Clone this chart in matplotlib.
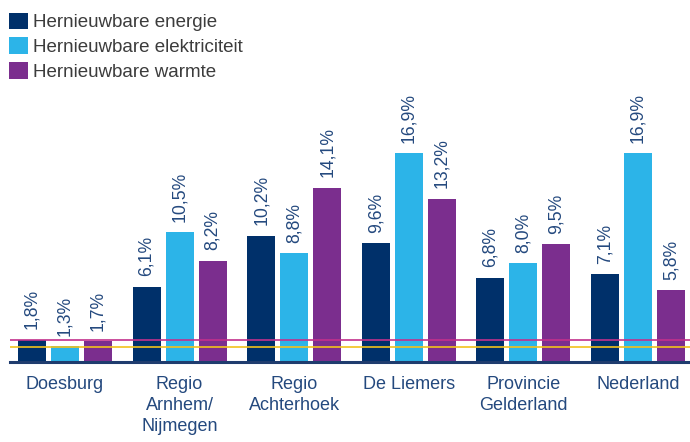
import matplotlib
matplotlib.use("Agg")
import matplotlib.pyplot as plt
from matplotlib.patches import Patch
import numpy as np

plt.rcParams['font.family'] = ['Liberation Sans', 'DejaVu Sans']

categories = ["Doesburg", "Regio\nArnhem/\nNijmegen", "Regio\nAchterhoek", "De Liemers",
              "Provincie\nGelderland", "Nederland"]
series_names = ["Hernieuwbare energie", "Hernieuwbare elektriciteit", "Hernieuwbare warmte"]
energie = [1.8, 6.1, 10.2, 9.6, 6.8, 7.1]
elektriciteit = [1.3, 10.5, 8.8, 16.9, 8.0, 16.9]
warmte = [1.7, 8.2, 14.1, 13.2, 9.5, 5.8]
ref_line_magenta = 1.8
ref_line_yellow = 1.25

colors = ["#00306a", "#2cb4e8", "#7b2e8e"]
text_navy = "#24497e"

fig = plt.figure(figsize=(6.9, 4.42), dpi=100)
ax = fig.add_axes([10/690, 1 - 362/442, 680/690, (362 - 10)/442])

x = np.arange(len(categories))
step = 0.288
width = 0.244
series = [energie, elektriciteit, warmte]
for k, (vals, col) in enumerate(zip(series, colors)):
    xs = x + (k - 1) * step
    ax.bar(xs, vals, width=width, color=col, zorder=2)
    for xi, v in zip(xs, vals):
        ax.annotate(f"{v:.1f}%".replace(".", ","), (xi, v), xytext=(0, 7.5),
                    textcoords="offset points", rotation=90, ha="center", va="bottom",
                    fontsize=12.7, color=text_navy)

ax.axhline(ref_line_magenta, color="#c2308c", lw=1.2, zorder=3)
ax.axhline(ref_line_yellow, color="#f2c21b", lw=1.2, zorder=3)

ax.set_xlim(-0.48, 5.454)
ax.set_ylim(0, 352/12.37)
for s in ["top", "right", "left"]:
    ax.spines[s].set_visible(False)
ax.spines["bottom"].set_color("#1f3c6e")
ax.spines["bottom"].set_linewidth(2.2)
ax.spines["bottom"].set_zorder(4)
ax.set_yticks([])
ax.set_xticks(x)
ax.set_xticklabels(categories, fontsize=13, color=text_navy, linespacing=1.3)
ax.tick_params(axis="x", length=0, pad=10)

handles = [Patch(facecolor=c, edgecolor="none") for c in colors]
fig.legend(handles, series_names, loc="upper left", bbox_to_anchor=(9/690, 1 - 12.5/442),
           frameon=False, fontsize=13.5, handlelength=1.0, handleheight=1.0,
           handletextpad=0.3, labelspacing=0.32, borderpad=0, borderaxespad=0,
           labelcolor="#3c3c3c")

fig.savefig("out.png", dpi=100)
